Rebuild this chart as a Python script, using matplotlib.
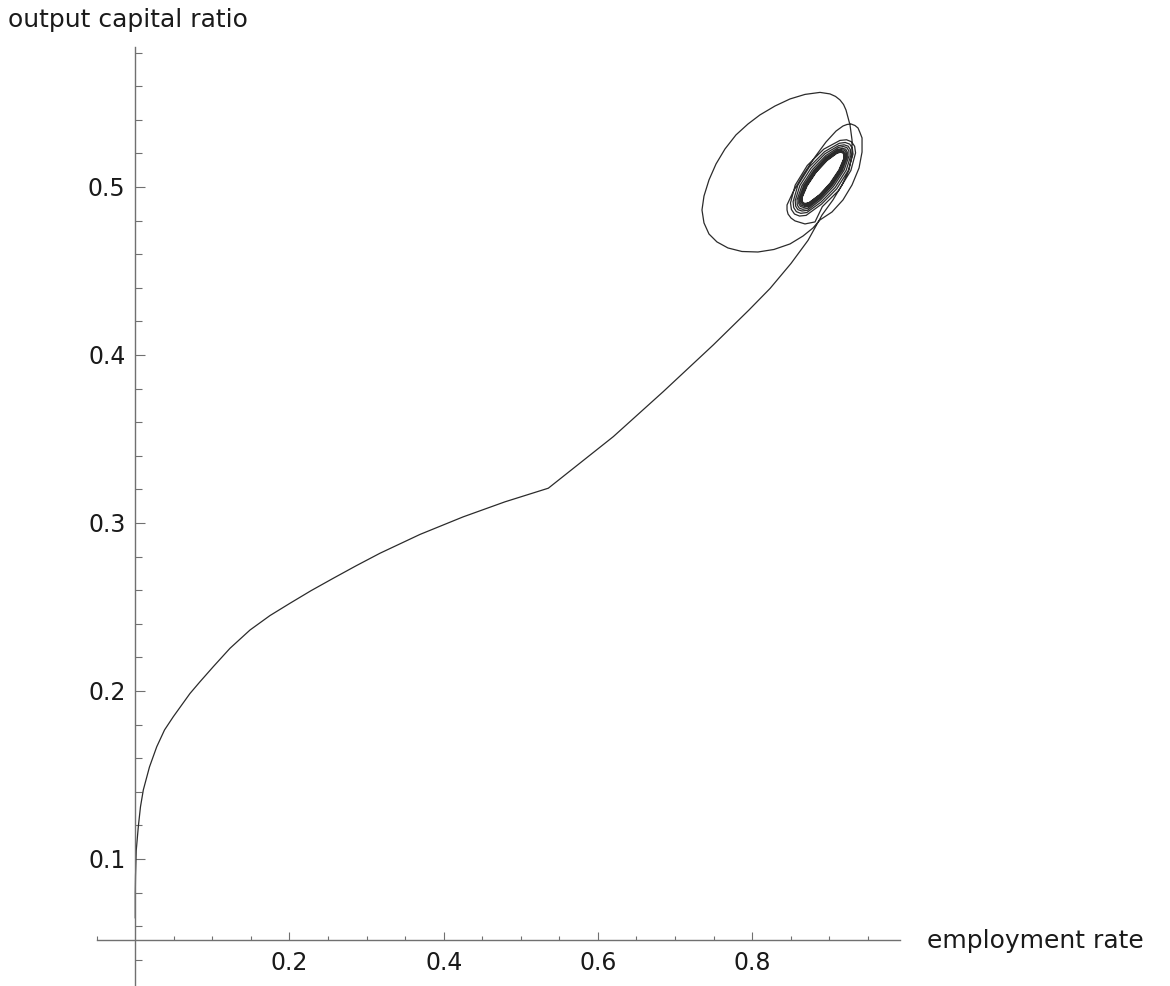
import matplotlib
matplotlib.use('Agg')
import matplotlib.pyplot as plt
import numpy as np

# trajectory: employment rate (x) vs output capital ratio (y)
# rise from the y axis up to the kink and along the straight part
approach_x = [0.0, 0.0, 0.0003, 0.0012, 0.0039, 0.0067, 0.0104, 0.0184, 0.0278,
              0.0379, 0.0493, 0.0709, 0.0839, 0.1012, 0.1228, 0.1488, 0.1747,
              0.2006, 0.2279, 0.2568, 0.2863, 0.3174, 0.3693, 0.4250, 0.4795,
              0.5357, 0.6200, 0.6848, 0.7497, 0.7960, 0.8233, 0.8505, 0.8725,
              0.8907]
approach_y = [0.065, 0.080, 0.090, 0.105, 0.1192, 0.1310, 0.1411, 0.1548, 0.1668,
              0.1768, 0.1847, 0.1985, 0.2055, 0.2145, 0.2254, 0.2363, 0.2449,
              0.2522, 0.2597, 0.2671, 0.2745, 0.2820, 0.2932, 0.3036, 0.3126,
              0.3207, 0.3514, 0.3782, 0.4060, 0.4268, 0.4396, 0.4545, 0.4682,
              0.4833]

# first wide swing round the equilibrium
big_loop_x = [0.9049, 0.9166, 0.9257, 0.9296, 0.9296, 0.9270, 0.9218, 0.9186,
              0.9140, 0.9082, 0.9010, 0.8881, 0.8686, 0.8492, 0.8297, 0.8102,
              0.7947, 0.7791, 0.7648, 0.7532, 0.7441, 0.7376, 0.7350, 0.7376,
              0.7441, 0.7544, 0.7687, 0.7868, 0.8076, 0.8283, 0.8492, 0.8660,
              0.8790, 0.8881]
big_loop_y = [0.4923, 0.5012, 0.5101, 0.5190, 0.5280, 0.5369, 0.5458, 0.5491,
              0.5518, 0.5539, 0.5554, 0.5563, 0.5551, 0.5524, 0.5482, 0.5429,
              0.5375, 0.5310, 0.5226, 0.5137, 0.5042, 0.4946, 0.4863, 0.4786,
              0.4720, 0.4673, 0.4637, 0.4616, 0.4613, 0.4628, 0.4661, 0.4708,
              0.4756, 0.4804]

# tightening loops of the ring (outer hooked loop first)
spiral_x = [
    0.9036, 0.9179, 0.9296, 0.9387, 0.9426, 0.9426, 0.9399, 0.9374, 0.9334, 0.9283,
    0.9231, 0.9179, 0.9089, 0.8959, 0.8816, 0.8661, 0.8531, 0.8453, 0.8453, 0.8466,
    0.8505, 0.8557, 0.8686, 0.8816,
    0.8911, 0.9124, 0.9281, 0.9342, 0.9330, 0.9290, 0.9225, 0.9139,
    0.8929, 0.8716, 0.8559, 0.8498, 0.8510, 0.8550, 0.8615, 0.8701,
    0.8901, 0.9098, 0.9247, 0.9309, 0.9300, 0.9266, 0.9208, 0.9130,
    0.8939, 0.8742, 0.8593, 0.8532, 0.8540, 0.8574, 0.8632, 0.8710,
    0.8894, 0.9078, 0.9220, 0.9281, 0.9275, 0.9246, 0.9194, 0.9123,
    0.8946, 0.8762, 0.8620, 0.8559, 0.8565, 0.8594, 0.8646, 0.8717,
    0.8884, 0.9057, 0.9194, 0.9257, 0.9255, 0.9230, 0.9183, 0.9119,
    0.8956, 0.8783, 0.8646, 0.8583, 0.8586, 0.8611, 0.8657, 0.8721,
    0.8879, 0.9042, 0.9173, 0.9235, 0.9235, 0.9214, 0.9172, 0.9113,
    0.8961, 0.8798, 0.8667, 0.8605, 0.8605, 0.8627, 0.8668, 0.8727,
    0.8875, 0.9030, 0.9156, 0.9219, 0.9220, 0.9201, 0.9163, 0.9109,
    0.8965, 0.8810, 0.8684, 0.8621, 0.8620, 0.8639, 0.8677, 0.8731,
    0.8872, 0.9020, 0.9141, 0.9203, 0.9206, 0.9189, 0.9154, 0.9103,
    0.8968, 0.8820, 0.8699, 0.8637, 0.8634, 0.8651, 0.8686, 0.8737,
    0.8870, 0.9014, 0.9132, 0.9193, 0.9197, 0.9181, 0.9148, 0.9099,
    0.8970, 0.8826, 0.8708, 0.8647, 0.8644, 0.8659, 0.8692, 0.8741,
    0.8869, 0.9010, 0.9126, 0.9188, 0.9192, 0.9177, 0.9145, 0.9098,
    0.8971, 0.8830, 0.8714, 0.8652, 0.8648, 0.8663, 0.8695, 0.8742,
    0.8869]
spiral_y = [
    0.4851, 0.4923, 0.5012, 0.5113, 0.5208, 0.5292, 0.5324, 0.5351, 0.5366, 0.5375,
    0.5372, 0.5363, 0.5333, 0.5268, 0.5179, 0.5071, 0.4970, 0.4893, 0.4863, 0.4839,
    0.4815, 0.4798, 0.4780, 0.4792,
    0.4883, 0.4980, 0.5098, 0.5203, 0.5242, 0.5269, 0.5281, 0.5277,
    0.5225, 0.5128, 0.5011, 0.4905, 0.4866, 0.4839, 0.4827, 0.4831,
    0.4898, 0.4989, 0.5098, 0.5196, 0.5231, 0.5255, 0.5265, 0.5260,
    0.5210, 0.5119, 0.5010, 0.4912, 0.4877, 0.4853, 0.4843, 0.4848,
    0.4910, 0.4997, 0.5099, 0.5189, 0.5222, 0.5243, 0.5251, 0.5246,
    0.5198, 0.5111, 0.5009, 0.4919, 0.4886, 0.4865, 0.4857, 0.4861,
    0.4921, 0.5004, 0.5101, 0.5185, 0.5215, 0.5234, 0.5241, 0.5235,
    0.5187, 0.5104, 0.5007, 0.4923, 0.4893, 0.4874, 0.4867, 0.4873,
    0.4930, 0.5010, 0.5101, 0.5180, 0.5207, 0.5225, 0.5230, 0.5224,
    0.5178, 0.5098, 0.5007, 0.4928, 0.4901, 0.4884, 0.4878, 0.4884,
    0.4938, 0.5014, 0.5101, 0.5176, 0.5202, 0.5218, 0.5222, 0.5216,
    0.5170, 0.5094, 0.5007, 0.4932, 0.4906, 0.4891, 0.4886, 0.4892,
    0.4945, 0.5018, 0.5101, 0.5171, 0.5196, 0.5210, 0.5215, 0.5208,
    0.5163, 0.5090, 0.5007, 0.4937, 0.4912, 0.4898, 0.4893, 0.4901,
    0.4949, 0.5020, 0.5101, 0.5169, 0.5192, 0.5206, 0.5210, 0.5203,
    0.5159, 0.5088, 0.5007, 0.4940, 0.4916, 0.4902, 0.4899, 0.4906,
    0.4951, 0.5022, 0.5101, 0.5167, 0.5190, 0.5203, 0.5207, 0.5200,
    0.5157, 0.5087, 0.5007, 0.4941, 0.4918, 0.4905, 0.4902, 0.4908,
    0.4951]

x_major = [0.2, 0.4, 0.6, 0.8]
x_labels = ['0.2', '0.4', '0.6', '0.8']
x_minor = [-0.05, 0.05, 0.1, 0.15, 0.25, 0.3, 0.35, 0.45, 0.5, 0.55, 0.65, 0.7,
           0.75, 0.85, 0.9, 0.95]
y_major = [0.1, 0.2, 0.3, 0.4, 0.5]
y_labels = ['0.1', '0.2', '0.3', '0.4', '0.5']
y_minor = [0.04, 0.06, 0.08, 0.12, 0.14, 0.16, 0.18, 0.22, 0.24, 0.26, 0.28,
           0.32, 0.34, 0.36, 0.38, 0.42, 0.44, 0.46, 0.48, 0.52, 0.54, 0.56, 0.58]

plt.rcParams['font.family'] = ['DejaVu Sans']

fig = plt.figure(figsize=(11.7, 9.86), dpi=100)
ax = fig.add_axes([0.08269, 0.0, 0.68665, 0.95264])

xs = np.concatenate([approach_x, big_loop_x, spiral_x])
ys = np.concatenate([approach_y, big_loop_y, spiral_y])
ax.plot(xs, ys, color='#2b2b2b', lw=0.9, solid_joinstyle='round')

ax.set_xlim(-0.05, 0.992)
ax.set_ylim(0.0244, 0.5835)

axis_grey = '#707070'
for side in ['top', 'right']:
    ax.spines[side].set_visible(False)
ax.spines['left'].set_position(('data', 0))
ax.spines['bottom'].set_position(('data', 0.052))
for side in ['left', 'bottom']:
    ax.spines[side].set_color(axis_grey)
    ax.spines[side].set_linewidth(1.0)

ax.set_xticks(x_major)
ax.set_xticklabels(x_labels)
ax.set_xticks(x_minor, minor=True)
ax.set_yticks(y_major)
ax.set_yticklabels(y_labels)
ax.set_yticks(y_minor, minor=True)

ax.tick_params(axis='x', which='major', direction='in', length=6, width=0.8,
               color=axis_grey, pad=8.5, labelsize=17, labelcolor='#1a1a1a')
ax.tick_params(axis='x', which='minor', direction='in', length=3, width=0.8,
               color=axis_grey)
ax.tick_params(axis='y', which='major', direction='in', length=7.5, width=0.8,
               color=axis_grey, pad=7, labelsize=17, labelcolor='#1a1a1a')
ax.tick_params(axis='y', which='minor', direction='in', length=5, width=0.8,
               color=axis_grey)
ax.patch.set_visible(False)

fig.text(8 / 1170, 1 - 27 / 986, 'output capital ratio', fontsize=18,
         color='#1a1a1a', ha='left', va='baseline')
fig.text(927 / 1170, 1 - 948 / 986, 'employment rate', fontsize=18,
         color='#1a1a1a', ha='left', va='baseline')

fig.savefig('out.png', dpi=100, facecolor='white')
